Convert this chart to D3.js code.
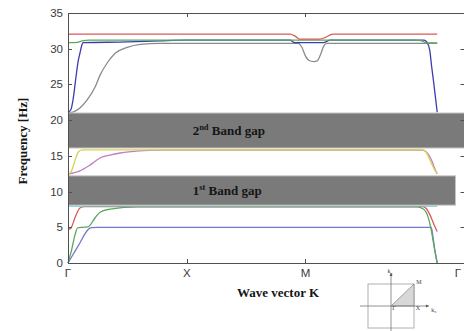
<!DOCTYPE html>
<html>
<head>
<meta charset="utf-8">
<script src="https://cdn.jsdelivr.net/npm/d3@7"></script>
<style>
  html, body { margin: 0; padding: 0; background: #fff; }
  svg { display: block; }
</style>
</head>
<body>
<svg id="chart" width="464" height="331"></svg>
<script>
// Dispersion bands along Γ–X–M–Γ, as [k, frequency Hz] pairs
const band1 = [[0,0],[0.05,1.4],[0.10,2.8],[0.14,4.0],[0.17,4.7],[0.20,4.95],[0.25,5.0],[3.06,5.0],[3.075,3.6],[3.09,1.8],[3.11,0]];
const band2 = [[0,0],[0.03,1.8],[0.06,4.0],[0.08,4.9],[0.12,5.0],[0.168,5.05],[0.227,6.3],[0.27,7.1],[0.354,7.55],[0.59,7.85],[2.94,7.85],[2.99,7.6],[3.03,6.6],[3.06,4.6],[3.085,2.2],[3.11,0]];
const band3 = [[0,4.7],[0.025,4.9],[0.06,6.4],[0.10,7.7],[0.14,7.9],[2.99,7.9],[3.02,7.6],[3.05,6.7],[3.08,5.5],[3.11,4.4]];
const band4 = [[0,7.95],[3.11,7.95]];
const band5 = [[0,12.45],[0.04,12.6],[0.10,12.9],[0.185,13.7],[0.27,14.7],[0.354,15.1],[0.44,15.4],[0.6,15.7],[0.77,15.8],[2.98,15.8],[3.01,15.65],[3.04,15.1],[3.07,14.1],[3.09,13.2],[3.11,12.45]];
const band6 = [[0,12.4],[0.03,12.9],[0.06,14.4],[0.085,15.5],[0.12,15.85],[2.985,15.85],[3.01,15.7],[3.03,15.1],[3.06,14.0],[3.09,13.0],[3.11,12.5]];
const band7 = [[0,21.1],[0.025,21.1],[0.10,21.7],[0.16,22.8],[0.227,24.6],[0.27,26.3],[0.33,28.0],[0.40,29.4],[0.50,30.2],[0.61,30.6],[0.77,30.75],[1.94,30.75],[1.97,30.2],[2.0,29.0],[2.03,28.35],[2.07,28.2],[2.10,28.3],[2.13,29.3],[2.155,30.4],[2.18,30.75],[3.11,30.75]];
const band8 = [[0,21.1],[0.025,21.5],[0.042,22.8],[0.067,26.0],[0.084,28.1],[0.101,29.4],[0.118,30.6],[0.13,30.85],[0.5,30.95],[0.77,31.1],[1.0,31.2],[1.87,31.2],[1.91,30.85],[2.15,30.85],[2.21,31.2],[3.0,31.2],[3.022,30.95],[3.047,29.8],[3.064,27.4],[3.081,25.2],[3.098,22.8],[3.11,21.1]];
const band9 = [[0,30.85],[0.02,30.85],[0.08,30.9],[0.12,31.1],[0.18,31.2],[2.93,31.2],[2.98,31.1],[3.01,30.85],[3.03,30.8],[3.11,30.8]];
const band10 = [[0,32.05],[1.87,32.05],[1.91,31.8],[1.95,31.35],[2.12,31.35],[2.17,31.6],[2.22,32.0],[2.24,32.05],[3.11,32.05]];

const bands = [band1, band2, band3, band4, band5, band6, band7, band8, band9, band10];
const bandColors = ["#7676cc", "#5aa65a", "#d45c5c", "#6ccccc", "#c47cc4", "#d4d450", "#8a8a8a", "#3c3cb0", "#5ca85c", "#d85a5a"];

// Symmetry points and frequency ticks
const kTicks = [0, 1, 2, 3.34];
const kLabels = ["Γ", "X", "M", "Γ"];
const fTicks = [0, 5, 10, 15, 20, 25, 30, 35];

// Band gaps: [low Hz, high Hz, right end in k]
const gapLow = [8.1, 16.1];
const gapHigh = [12.2, 21.0];
const gapEnd = [3.26, 3.34];
const gapOrdinal = ["1", "2"];
const gapSuffix = ["st", "nd"];

const svg = d3.select("#chart");
const mLeft = 68, mRight = 464.5, mTop = 13, mBottom = 263;

const x = d3.scaleLinear().domain([0, 3.34]).range([mLeft, mRight]);
const y = d3.scaleLinear().domain([0, 35]).range([mBottom, mTop]);

const axisColor = "#505050";

// Band curves
const line = d3.line()
  .x(d => x(d[0]))
  .y(d => y(d[1]))
  .curve(d3.curveMonotoneX);

svg.append("g")
  .selectAll("path")
  .data(bands)
  .join("path")
  .attr("d", line)
  .attr("fill", "none")
  .attr("stroke", (d, i) => bandColors[i])
  .attr("stroke-width", 1.3);

// Band-gap boxes
const gaps = gapLow.map((lo, i) => ({ lo, hi: gapHigh[i], end: gapEnd[i], n: gapOrdinal[i], s: gapSuffix[i] }));

svg.append("g")
  .selectAll("rect")
  .data(gaps)
  .join("rect")
  .attr("x", x(0) + 0.5)
  .attr("y", d => y(d.hi))
  .attr("width", d => x(d.end) - x(0))
  .attr("height", d => y(d.lo) - y(d.hi))
  .attr("fill", "#7a7a7a")
  .attr("stroke", "#c4c4c4")
  .attr("stroke-width", 1);

const gapText = svg.append("g")
  .selectAll("text")
  .data(gaps)
  .join("text")
  .attr("x", x(1.05))
  .attr("y", d => (y(d.lo) + y(d.hi)) / 2 + 4.5)
  .attr("font-family", "'Liberation Serif', 'Times New Roman', serif")
  .attr("font-weight", "bold")
  .attr("font-size", 13)
  .attr("fill", "#151515");
gapText.append("tspan").text(d => d.n);
gapText.append("tspan").attr("font-size", 8.5).attr("dy", -5).text(d => d.s);
gapText.append("tspan").attr("dy", 5).text(" Band gap");

// Frame
const frame = svg.append("g").attr("stroke", axisColor).attr("stroke-width", 1).attr("fill", "none");
frame.append("rect")
  .attr("x", mLeft + 0.5).attr("y", mTop + 0.5)
  .attr("width", mRight - mLeft).attr("height", mBottom - mTop);

// Inward ticks (left/right on frequency, top/bottom on k)
const tickLen = 4;
fTicks.forEach(f => {
  const yy = Math.round(y(f)) + 0.5;
  frame.append("line").attr("x1", mLeft).attr("x2", mLeft + tickLen).attr("y1", yy).attr("y2", yy);
  frame.append("line").attr("x1", mRight - tickLen).attr("x2", mRight).attr("y1", yy).attr("y2", yy);
});
kTicks.forEach(k => {
  const xx = Math.round(x(k)) + 0.5;
  frame.append("line").attr("x1", xx).attr("x2", xx).attr("y1", mBottom).attr("y2", mBottom - tickLen);
  frame.append("line").attr("x1", xx).attr("x2", xx).attr("y1", mTop).attr("y2", mTop + tickLen);
});

// Tick labels
const tickFont = "'Liberation Sans', Arial, sans-serif";
svg.append("g")
  .selectAll("text")
  .data(fTicks)
  .join("text")
  .attr("x", mLeft - 5)
  .attr("y", d => y(d) + 4)
  .attr("text-anchor", "end")
  .attr("font-family", tickFont)
  .attr("font-size", 11.5)
  .attr("fill", "#3a3a3a")
  .text(d => d);

// k labels; the last one sits at the window edge, so keep it inside
svg.append("g")
  .selectAll("text")
  .data(kTicks)
  .join("text")
  .attr("x", d => Math.min(x(d), 458))
  .attr("y", mBottom + 14)
  .attr("text-anchor", "middle")
  .attr("font-family", tickFont)
  .attr("font-size", 11.5)
  .attr("fill", "#3a3a3a")
  .text((d, i) => kLabels[i]);

// Axis titles
const titleFont = "'Liberation Serif', 'Times New Roman', serif";
svg.append("text")
  .attr("transform", "translate(27,141) rotate(-90)")
  .attr("text-anchor", "middle")
  .attr("font-family", titleFont)
  .attr("font-weight", "bold")
  .attr("font-size", 13)
  .attr("fill", "#151515")
  .text("Frequency [Hz]");

svg.append("text")
  .attr("x", 278)
  .attr("y", 297)
  .attr("text-anchor", "middle")
  .attr("font-family", titleFont)
  .attr("font-weight", "bold")
  .attr("font-size", 13)
  .attr("fill", "#151515")
  .text("Wave vector K");

// Brillouin zone sketch with the irreducible wedge Γ–X–M
const bz = svg.append("g");
const bx = d3.scaleLinear().domain([-1, 1]).range([368, 414]);
const by = d3.scaleLinear().domain([-1, 1]).range([328, 284]);
bz.append("rect")
  .attr("x", bx(-1)).attr("y", by(1))
  .attr("width", bx(1) - bx(-1)).attr("height", by(-1) - by(1))
  .attr("fill", "none").attr("stroke", "#b0b0b0").attr("stroke-width", 1);
bz.append("path")
  .attr("d", `M${bx(0)},${by(0)}L${bx(1)},${by(0)}L${bx(1)},${by(1)}Z`)
  .attr("fill", "#d8d8d8").attr("stroke", "#8a8a8a").attr("stroke-width", 0.8);
bz.append("line")
  .attr("x1", bx(-1.35)).attr("x2", bx(1.65)).attr("y1", by(0)).attr("y2", by(0))
  .attr("stroke", "#777").attr("stroke-width", 0.8);
bz.append("line")
  .attr("x1", bx(0)).attr("x2", bx(0)).attr("y1", by(-1.2)).attr("y2", by(1.5))
  .attr("stroke", "#777").attr("stroke-width", 0.8);
bz.append("path")
  .attr("d", `M${bx(1.65)},${by(0)}l-3,-1.5l0,3Z`).attr("fill", "#555");
bz.append("path")
  .attr("d", `M${bx(0)},${by(1.5)}l-1.5,3l3,0Z`).attr("fill", "#555");
const bzLabels = [["M", 1.1, 1.0], ["Γ", 0.05, -0.2], ["X", 1.08, -0.2], ["k", 1.75, -0.25], ["k", -0.15, 1.5]];
const bzSubs = ["", "", "", "x", "y"];
bz.selectAll("text")
  .data(bzLabels)
  .join("text")
  .attr("x", d => bx(d[1]))
  .attr("y", d => by(d[2]))
  .attr("font-family", titleFont)
  .attr("font-size", 6)
  .attr("fill", "#444")
  .each(function(d, i) {
    const t = d3.select(this);
    t.append("tspan").text(d[0]);
    if (bzSubs[i]) t.append("tspan").attr("font-size", 4).attr("dy", 1.5).text(bzSubs[i]);
  });
</script>
</body>
</html>
